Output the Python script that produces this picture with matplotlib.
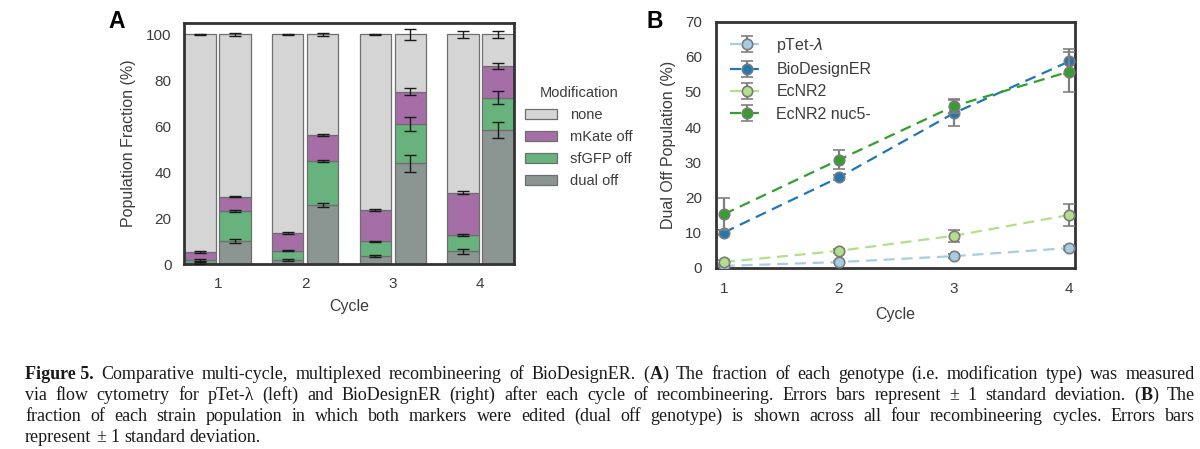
import matplotlib
matplotlib.use('Agg')
import matplotlib.pyplot as plt
import numpy as np

# ---- panel A: population fractions (%) per genotype, one value per cycle
cycles = [1, 2, 3, 4]
genotypes = ['dual off', 'sfGFP off', 'mKate off', 'none']

ptet_frac = {
    'dual off':  [0.5, 1.7, 3.5, 5.5],
    'sfGFP off': [1.2, 4.1, 6.4, 7.0],
    'mKate off': [3.5, 7.7, 13.7, 18.5],
    'none':      [94.8, 86.5, 76.4, 69.0],
}
ptet_err = {
    'dual off':  [0.3, 0.3, 0.3, 1.2],
    'sfGFP off': [0.3, 0.3, 0.3, 0.5],
    'mKate off': [0.3, 0.6, 0.4, 0.7],
    'none':      [0.3, 0.4, 0.3, 1.4],
}
bde_frac = {
    'dual off':  [9.9, 25.8, 43.9, 58.5],
    'sfGFP off': [13.1, 19.0, 17.1, 14.0],
    'mKate off': [6.4, 11.4, 14.1, 13.7],
    'none':      [70.6, 43.8, 24.9, 13.8],
}
bde_err = {
    'dual off':  [0.8, 0.8, 3.7, 3.5],
    'sfGFP off': [0.4, 0.3, 2.9, 3.0],
    'mKate off': [0.3, 0.3, 1.5, 1.2],
    'none':      [0.8, 0.6, 2.4, 1.7],
}
legend_order = ['none', 'mKate off', 'sfGFP off', 'dual off']

# ---- panel B: dual off population (%)
strains = ['pTet-$\\lambda$', 'BioDesignER', 'EcNR2', 'EcNR2 nuc5-']
dual_off = [
    [0.5, 1.6, 3.3, 5.6],
    [10.0, 25.7, 44.0, 58.7],
    [1.6, 4.8, 9.1, 15.0],
    [15.2, 30.7, 46.0, 55.8],
]
dual_off_err = [
    [0.3, 0.4, 0.5, 0.6],
    [0.7, 0.8, 3.6, 3.6],
    [0.5, 0.6, 1.7, 3.0],
    [4.6, 2.7, 2.1, 5.7],
]

# caption; *x* marks bold, ~ joins words with a plain space
caption_lines = [
    '*Figure~5.*  Comparative multi-cycle, multiplexed recombineering of BioDesignER. (*A*) The fraction of each genotype (i.e. modification type) was measured',
    'via flow cytometry for pTet-\u03bb (left) and BioDesignER (right) after each cycle of recombineering. Errors bars represent \u00b1 1 standard deviation. (*B*) The',
    'fraction of each strain population in which both markers were edited (dual off genotype) is shown across all four recombineering cycles. Errors bars',
    'represent \u00b1 1 standard deviation.',
]

colors_a = {'none': '#d5d5d5', 'mKate off': '#a56ea6', 'sfGFP off': '#67b27d', 'dual off': '#8b9591'}
colors_b = ['#a6cee3', '#1f78b4', '#b2df8a', '#33a02c']

txt = '#3c3c3c'
plt.rcParams['font.family'] = ['Liberation Sans', 'DejaVu Sans']
plt.rcParams['mathtext.fontset'] = 'dejavusans'

fig = plt.figure(figsize=(12, 4.49), dpi=100)

# ---------------- panel A
ax1 = fig.add_axes([184/1200, 1-264/449, 330/1200, 241/449])
x = np.array(cycles, dtype=float)
w = 0.36
for frac, err, off in [(ptet_frac, ptet_err, -0.2), (bde_frac, bde_err, 0.2)]:
    bottom = np.zeros(4)
    for g in genotypes:
        vals = np.array(frac[g])
        ax1.bar(x + off, vals, w, bottom=bottom, color=colors_a[g],
                edgecolor='#6e6e6e', linewidth=0.9, label=g if off < 0 else None, zorder=2)
        top = bottom + vals
        ax1.errorbar(x + off, top, yerr=err[g], fmt='none', ecolor='#1a1a1a',
                     elinewidth=1.0, capsize=4, capthick=1.0, zorder=3)
        bottom = top
ax1.set_xlim(0.615, 4.385)
ax1.set_ylim(0, 105)
ax1.set_xticks(cycles)
ax1.set_yticks([0, 20, 40, 60, 80, 100])
ax1.tick_params(length=0, labelsize=11, colors=txt, pad=9)
ax1.set_xlabel('Cycle', fontsize=11.5, color=txt, labelpad=6)
ax1.set_ylabel('Population Fraction (%)', fontsize=11.5, color=txt, labelpad=7)
for s in ax1.spines.values():
    s.set_linewidth(2)
    s.set_color('#333333')
h, l = ax1.get_legend_handles_labels()
hd = dict(zip(l, h))
leg = ax1.legend([hd[k] for k in legend_order], legend_order, title='Modification',
                 loc='upper left', bbox_to_anchor=(512/1200, 1-73/449),
                 bbox_transform=fig.transFigure, frameon=False, fontsize=10.5,
                 title_fontsize=10.5, handlelength=2.2, handleheight=0.7,
                 labelspacing=0.55, handletextpad=0.9)
for t in leg.get_texts():
    t.set_color(txt)
leg.get_title().set_color(txt)
fig.text(108/1200, 1-21/449, 'A', fontsize=16.5, fontweight='bold', va='center', ha='left')

# ---------------- panel B
ax2 = fig.add_axes([715.7/1200, 1-267.7/449, 359.3/1200, 246/449])
for i, name in enumerate(strains):
    ax2.errorbar(cycles, dual_off[i], yerr=dual_off_err[i], color=colors_b[i],
                 linestyle=(0, (5, 3)), linewidth=1.6, marker='o', markersize=7.5,
                 markeredgecolor='#7a7a7a', markeredgewidth=1.2,
                 ecolor='#808080', elinewidth=1.6, capsize=4, capthick=1.6,
                 label=name, zorder=3 + i)
ax2.set_xlim(0.93, 4.05)
ax2.set_ylim(0, 70)
ax2.set_xticks(cycles)
ax2.set_yticks(range(0, 71, 10))
ax2.tick_params(length=0, labelsize=11, colors=txt, pad=10)
ax2.set_xlabel('Cycle', fontsize=11.5, color=txt, labelpad=8)
ax2.set_ylabel('Dual Off Population (%)', fontsize=11.5, color=txt, labelpad=6)
for s in ax2.spines.values():
    s.set_linewidth(2)
    s.set_color('#333333')
leg2 = ax2.legend(loc='upper left', frameon=False, fontsize=11.5, handlelength=2.1,
                  labelspacing=0.45, handletextpad=0.8, borderaxespad=0.5)
for t in leg2.get_texts():
    t.set_color(txt)
fig.text(647/1200, 1-21/449, 'B', fontsize=16.5, fontweight='bold', va='center', ha='left')


# ---------------- caption, justified word by word
def parse(line):
    words = []
    for wd in line.split():
        parts = wd.replace('~', ' ').split('*')
        segs = [(p, 'bold' if k % 2 == 1 else 'normal') for k, p in enumerate(parts) if p]
        words.append(segs)
    return words


renderer = fig.canvas.get_renderer()
cap_font = dict(fontfamily='Liberation Serif', fontsize=13, color='#1a1a1a', va='baseline')
x_left, x_right = 25, 1195
base_y = [379, 400, 421, 442]
sp = fig.text(0, 0, 'a b', **cap_font)
sp2 = fig.text(0, 0, 'ab', **cap_font)
space = sp.get_window_extent(renderer).width - sp2.get_window_extent(renderer).width
sp.remove()
sp2.remove()
for li, line in enumerate(caption_lines):
    words = parse(line)
    made = []
    widths = []
    for wd in words:
        segs = []
        wsum = 0
        for s, wt in wd:
            t = fig.text(0, 1 - base_y[li]/449, s, fontweight=wt, **cap_font)
            ww = t.get_window_extent(renderer).width
            segs.append((t, wsum))
            wsum += ww
        made.append(segs)
        widths.append(wsum)
    if li < len(caption_lines) - 1:
        gap = (x_right - x_left - sum(widths)) / (len(words) - 1)
    else:
        gap = space
    xp = x_left
    for segs, ww in zip(made, widths):
        for t, dx in segs:
            t.set_x((xp + dx) / 1200)
        xp += ww + gap

fig.savefig('out.png', dpi=100)
